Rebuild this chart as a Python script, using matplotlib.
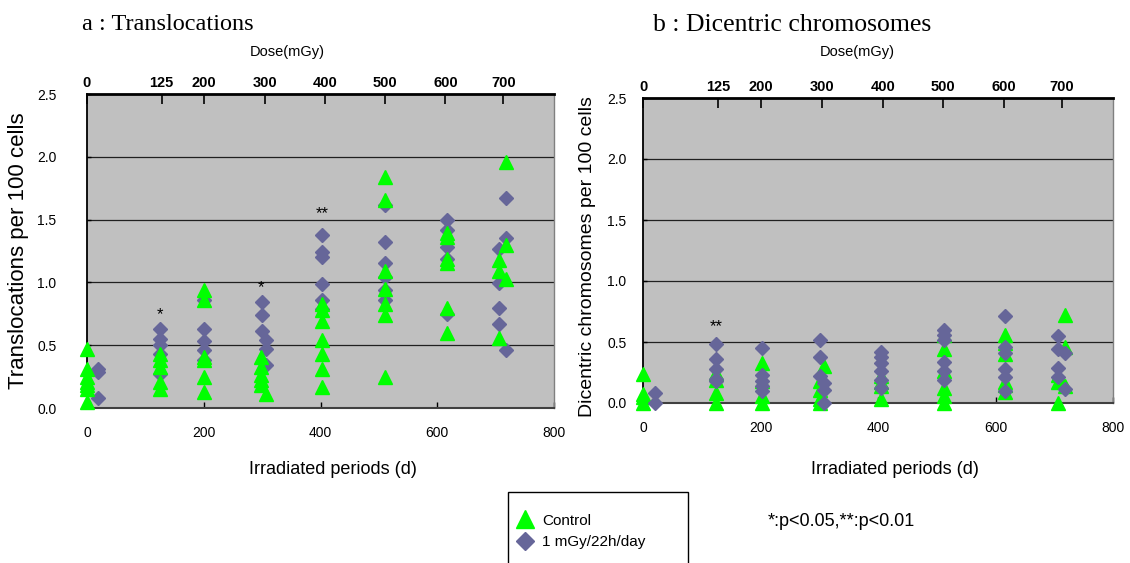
import numpy as np
import matplotlib.pyplot as plt
from matplotlib.patches import Rectangle
from matplotlib.lines import Line2D

plt.rcParams['font.family'] = ['Liberation Sans', 'DejaVu Sans']

# ---- data ----
# a : translocations, control (triangles)
tr_ctrl_day = [0]*7 + [125]*5 + [200]*6 + [298]*5 + [307] + [403]*7 + [511]*7 + [617]*6 + [706]*3 + [718]*3
tr_ctrl = [0.47, 0.31, 0.25, 0.21, 0.18, 0.15, 0.05,
           0.43, 0.38, 0.33, 0.21, 0.15,
           0.94, 0.86, 0.41, 0.38, 0.25, 0.13,
           0.41, 0.33, 0.26, 0.22, 0.18, 0.11,
           0.83, 0.78, 0.69, 0.54, 0.43, 0.31, 0.17,
           1.84, 1.655, 1.09, 0.95, 0.83, 0.74, 0.25,
           1.395, 1.36, 1.19, 1.155, 0.80, 0.60,
           1.18, 1.09, 0.56, 1.96, 1.30, 1.03]
# a : translocations, 1 mGy/22h/day (diamonds)
tr_irr_day = [19]*3 + [125]*5 + [200]*5 + [299]*3 + [307]*3 + [403]*6 + [511]*6 + [617]*5 + [706]*4 + [718]*3
tr_irr = [0.31, 0.29, 0.08,
          0.63, 0.55, 0.50, 0.43, 0.27,
          0.86, 0.63, 0.53, 0.46, 0.38,
          0.845, 0.74, 0.61, 0.54, 0.47, 0.34,
          1.38, 1.24, 1.20, 0.985, 0.86, 0.79,
          1.615, 1.32, 1.155, 1.04, 0.94, 0.86,
          1.495, 1.415, 1.28, 1.19, 0.75,
          1.265, 0.995, 0.80, 0.67, 1.67, 1.35, 0.465]

# b : dicentric chromosomes, control
dc_ctrl_day = [0]*4 + [125]*4 + [202]*4 + [301]*4 + [308] + [405]*4 + [512]*6 + [616]*6 + [706]*3 + [719]*3
dc_ctrl = [0.24, 0.07, 0.05, 0.0,
           0.25, 0.19, 0.08, 0.0,
           0.33, 0.18, 0.055, 0.0,
           0.18, 0.11, 0.035, 0.0, 0.30,
           0.22, 0.17, 0.14, 0.03,
           0.56, 0.44, 0.26, 0.12, 0.055, 0.0,
           0.56, 0.49, 0.40, 0.17, 0.15, 0.09,
           0.23, 0.17, 0.0, 0.72, 0.46, 0.14]
# b : dicentric chromosomes, 1 mGy/22h/day
dc_irr_day = [21]*2 + [125]*5 + [202]*5 + [301]*3 + [308]*3 + [405]*6 + [512]*6 + [616]*6 + [706]*4 + [719]*2
dc_irr = [0.08, 0.0,
          0.48, 0.36, 0.28, 0.20, 0.18,
          0.45, 0.23, 0.18, 0.14, 0.095,
          0.52, 0.38, 0.22, 0.165, 0.11, 0.0,
          0.42, 0.38, 0.33, 0.26, 0.19, 0.12,
          0.595, 0.56, 0.52, 0.34, 0.26, 0.19,
          0.71, 0.46, 0.41, 0.275, 0.21, 0.095,
          0.55, 0.445, 0.29, 0.215, 0.41, 0.115]

dose_day = [0, 128, 200, 305, 408, 510, 614, 713]
dose_lab = ['0', '125', '200', '300', '400', '500', '600', '700']

# significance marks: (day, y, text)
tr_sig = [(125, 0.74, '*'), (298, 0.96, '*'), (403, 1.55, '**')]
dc_sig = [(125, 0.63, '**')]

GREEN = '#00FF00'
SLATE = '#666699'
W, H = 1130, 563

fig = plt.figure(figsize=(W/100, H/100), dpi=100)


def panel(rect, ypad):
    ax = fig.add_axes(rect)
    ax.set_facecolor('#C0C0C0')
    ax.set_xlim(0, 800)
    ax.set_ylim(0, 2.5)
    ax.set_xticks([0, 200, 400, 600, 800])
    ax.set_yticks([0, 0.5, 1.0, 1.5, 2.0, 2.5])
    ax.set_yticklabels(['0.0', '0.5', '1.0', '1.5', '2.0', '2.5'])
    ax.tick_params(axis='x', direction='in', length=4, width=1, pad=13, labelsize=10)
    ax.tick_params(axis='y', direction='in', length=3, width=1, pad=ypad, labelsize=10)
    for yy in [0.5, 1.0, 1.5, 2.0]:
        ax.axhline(yy, color='#202020', lw=0.9, zorder=1)
    ax.spines['left'].set_linewidth(1.3)
    ax.spines['bottom'].set_color('#404040')
    ax.spines['bottom'].set_linewidth(1.5)
    ax.spines['right'].set_color('#808080')
    ax.spines['right'].set_linewidth(1.0)
    ax.spines['top'].set_linewidth(2.0)
    top = ax.twiny()
    top.set_xlim(0, 800)
    top.set_xticks(dose_day)
    top.set_xticklabels(dose_lab, fontweight='bold')
    top.tick_params(axis='x', direction='in', length=7, width=1.2, pad=3, labelsize=10.5)
    for s in top.spines.values():
        s.set_visible(False)
    return ax


axL = panel([87/W, 1-408/H, 467/W, 314/H], 22)
axR = panel([643/W, 1-403/H, 470/W, 305/H], 12)

# left: triangles drawn above diamonds
axL.plot(tr_irr_day, tr_irr, 'D', ms=7.2, color=SLATE, ls='none', zorder=3, clip_on=False)
axL.plot(tr_ctrl_day, tr_ctrl, '^', ms=10.2, color=GREEN, ls='none', zorder=4, clip_on=False)
# right: diamonds drawn above triangles
axR.plot(dc_ctrl_day, dc_ctrl, '^', ms=10.2, color=GREEN, ls='none', zorder=3, clip_on=False)
axR.plot(dc_irr_day, dc_irr, 'D', ms=7.2, color=SLATE, ls='none', zorder=4, clip_on=False)

for d, y, t in tr_sig:
    axL.text(d, y, t, ha='center', va='center', fontsize=12, zorder=5)
for d, y, t in dc_sig:
    axR.text(d, y, t, ha='center', va='center', fontsize=12, zorder=5)

axL.set_ylabel('Translocations per 100 cells', fontsize=16)
axL.yaxis.set_label_coords(-0.125, 0.5)
axR.set_ylabel('Dicentric chromosomes per 100 cells', fontsize=14)
axR.yaxis.set_label_coords(-0.1, 0.48)
axL.set_xlabel('Irradiated periods (d)', fontsize=13)
axL.xaxis.set_label_coords(0.527, -0.17)
axR.set_xlabel('Irradiated periods (d)', fontsize=13)
axR.xaxis.set_label_coords(0.535, -0.19)

fig.text(287/W, 1-52/H, 'Dose(mGy)', ha='center', va='center', fontsize=10.5)
fig.text(857/W, 1-52/H, 'Dose(mGy)', ha='center', va='center', fontsize=10.5)
fig.text(82/W, 1-25/H, 'a : Translocations', ha='left', va='center',
         fontsize=17.5, family='Liberation Serif')
fig.text(653/W, 1-25/H, 'b : Dicentric chromosomes', ha='left', va='center',
         fontsize=18.5, family='Liberation Serif')

# legend box (runs off the bottom edge)
fig.patches.append(Rectangle((508/W, -0.02), 180/W, 1-492/H + 0.02, transform=fig.transFigure,
                             fill=False, ec='black', lw=1.0))
handles = [Line2D([], [], marker='^', ms=12.5, color=GREEN, ls='none'),
           Line2D([], [], marker='D', ms=9, color=SLATE, ls='none')]
fig.legend(handles, ['Control', '1 mGy/22h/day'], loc='upper left',
           bbox_to_anchor=(510/W, 1-506/H), frameon=False, fontsize=11,
           handlelength=1.0, handletextpad=0.6, labelspacing=0.5, borderpad=0)
fig.text(768/W, 1-522/H, '*:p<0.05,**:p<0.01', ha='left', va='center', fontsize=13)

fig.savefig('out.png', dpi=100)
